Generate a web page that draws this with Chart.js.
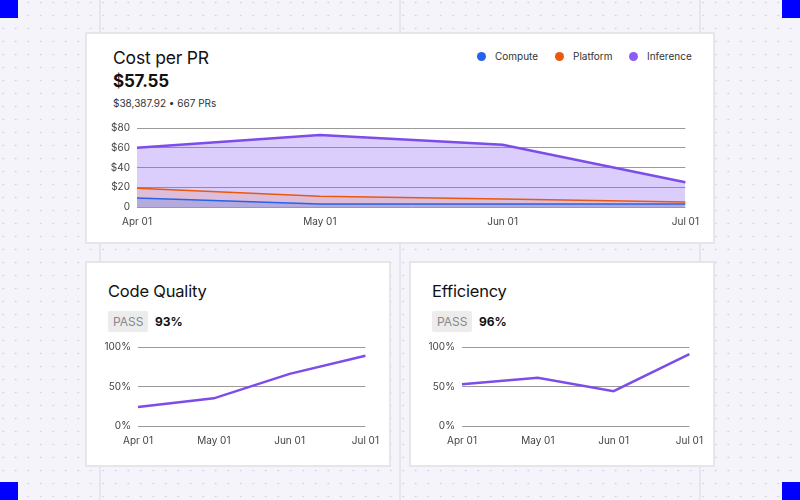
<!DOCTYPE html>
<html>
<head>
<meta charset="utf-8">
<script src="https://cdn.jsdelivr.net/npm/chart.js@4"></script>
<style>
  html, body { margin: 0; padding: 0; }
  body {
    width: 800px; height: 500px; overflow: hidden; position: relative;
    font-family: Inter, "Noto Sans", sans-serif;
    background-color: #f5f4fb;
    background-image: radial-gradient(circle, #d3d2e2 0.8px, transparent 1.1px);
    background-size: 12.5px 13px;
    background-position: -3px -4px;
  }
  .vline { position: absolute; top: 0; width: 2px; height: 500px; background: #e7e6ef; }
  .corner { position: absolute; width: 18px; height: 18px; background: #0000ff; }
  .card {
    position: absolute; background: #fff; border: 2px solid #e6e6ea; box-sizing: border-box;
  }
  .title { position: absolute; font-size: 17.5px; color: #111; letter-spacing: -0.2px; }
  .big { position: absolute; font-size: 17px; font-weight: 700; color: #111; letter-spacing: -0.2px; }
  .sub { position: absolute; font-size: 10px; color: #333; }
  .legend { position: absolute; top: 50px; font-size: 10px; color: #333; display: flex; align-items: center; }
  .legend span.dot { width: 9px; height: 9px; border-radius: 50%; display: inline-block; margin-right: 9px; }
  .badge { position: absolute; background: #ececec; color: #888; font-size: 12px; padding: 3px 5px; border-radius: 2px; }
  .pct { position: absolute; font-size: 12px; font-weight: 700; color: #111; }
  .box { position: absolute; }
</style>
</head>
<body>
<div class="vline" style="left:99px"></div>
<div class="vline" style="left:399px"></div>
<div class="vline" style="left:699px"></div>
<div class="corner" style="left:0;top:0"></div>
<div class="corner" style="left:782px;top:0"></div>
<div class="corner" style="left:0;top:482px"></div>
<div class="corner" style="left:782px;top:482px"></div>

<div class="card" style="left:85px;top:32px;width:630px;height:212px"></div>
<div class="title" style="left:113px;top:47px">Cost per PR</div>
<div class="big" style="left:113px;top:71px">$57.55</div>
<div class="sub" style="left:113px;top:97px">$38,387.92 • 667 PRs</div>
<div class="legend" style="left:477px"><span class="dot" style="background:#2563eb"></span>Compute</div>
<div class="legend" style="left:555px"><span class="dot" style="background:#ea580c"></span>Platform</div>
<div class="legend" style="left:629px"><span class="dot" style="background:#8b5cf6"></span>Inference</div>
<div class="box" style="left:100px;top:115px;width:600px;height:114px"><canvas id="costChart"></canvas></div>

<div class="card" style="left:85px;top:261px;width:306px;height:206px"></div>
<div class="title" style="left:108px;top:281px;font-size:16.5px">Code Quality</div>
<div class="badge" style="left:108px;top:311px">PASS</div>
<div class="pct" style="left:155px;top:314px">93%</div>
<div class="box" style="left:95px;top:334px;width:285px;height:114px"><canvas id="qualityChart"></canvas></div>

<div class="card" style="left:409px;top:261px;width:306px;height:206px"></div>
<div class="title" style="left:432px;top:281px;font-size:16.5px">Efficiency</div>
<div class="badge" style="left:432px;top:311px">PASS</div>
<div class="pct" style="left:479px;top:314px">96%</div>
<div class="box" style="left:419px;top:334px;width:285px;height:114px"><canvas id="efficiencyChart"></canvas></div>

<script>
const months = ['Apr 01', 'May 01', 'Jun 01', 'Jul 01'];
const compute = [9, 3, 3, 3];
const platform = [19, 11, 8, 5];
const inference = [60, 73, 63, 25];
const costTicks = [0, 20, 40, 60, 80];
const quality = [24, 35, 66, 89];
const efficiency = [53, 61, 44, 91];
const pctTicks = [0, 50, 100];

Chart.defaults.font.family = 'Inter, "Noto Sans", sans-serif';
Chart.defaults.font.size = 10;
Chart.defaults.color = '#444';

function yScale(max, step, fmt, width) {
  return {
    min: 0, max: max,
    border: { display: false },
    grid: { color: '#9a9a9a', drawTicks: false },
    ticks: { stepSize: step, padding: 7, callback: fmt },
    afterFit: function(scale) { scale.width = width; }
  };
}

function xScale() {
  return {
    offset: false,
    border: { display: false },
    grid: { display: false },
    ticks: { padding: 1, maxRotation: 0, autoSkip: false }
  };
}

new Chart(document.getElementById('costChart'), {
  type: 'line',
  data: {
    labels: months,
    datasets: [
      { label: 'Compute', data: compute, borderColor: '#2563eb', backgroundColor: 'rgba(37,99,235,0.22)', fill: 'origin' },
      { label: 'Platform', data: platform, borderColor: '#ea580c', backgroundColor: 'rgba(234,88,12,0.14)', fill: 'origin' },
      { label: 'Inference', data: inference, borderColor: '#7c4de8', backgroundColor: 'rgba(139,92,246,0.3)', fill: 'origin', borderWidth: 2.5 }
    ]
  },
  options: {
    responsive: true, maintainAspectRatio: false, animation: false,
    layout: { padding: { top: 8, right: 9, left: 0, bottom: 0 } },
    elements: { point: { radius: 0 }, line: { borderWidth: 1.5, tension: 0 } },
    plugins: { legend: { display: false }, tooltip: { enabled: false } },
    scales: {
      x: xScale(),
      y: yScale(80, 20, function(v) { return costTicks.includes(v) ? (v === 0 ? '0' : '$' + v) : ''; }, 37)
    }
  }
});

function pctChart(id, values) {
  new Chart(document.getElementById(id), {
    type: 'line',
    data: {
      labels: months,
      datasets: [{ data: values, borderColor: '#7c4de8', borderWidth: 2.5, fill: false }]
    },
    options: {
      responsive: true, maintainAspectRatio: false, animation: false,
      layout: { padding: { top: 8, right: 12, left: 0, bottom: 0 } },
      elements: { point: { radius: 0 }, line: { tension: 0 } },
      plugins: { legend: { display: false }, tooltip: { enabled: false } },
      scales: {
        x: xScale(),
        y: yScale(100, 50, function(v) { return pctTicks.includes(v) ? v + '%' : ''; }, 43)
      }
    }
  });
}

pctChart('qualityChart', quality);
pctChart('efficiencyChart', efficiency);
</script>
</body>
</html>
